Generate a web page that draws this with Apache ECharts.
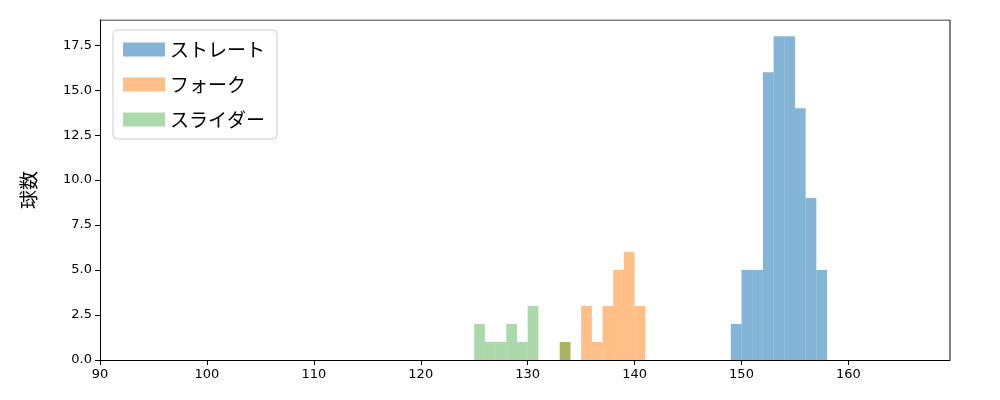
<!DOCTYPE html>
<html>
<head>
<meta charset="utf-8">
<script src="https://cdn.jsdelivr.net/npm/echarts@6/dist/echarts.min.js"></script>
<style>html,body{margin:0;background:#fff}#main{width:1000px;height:400px}</style>
</head>
<body>
<div id="main"></div>
<script>
// 球速ビン（左端, 幅1）と球数
const straightBins = [149, 150, 151, 152, 153, 154, 155, 156, 157]
const straightCounts = [2, 5, 5, 16, 18, 18, 14, 9, 5]
const forkBins = [133, 135, 136, 137, 138, 139, 140]
const forkCounts = [1, 3, 1, 3, 5, 6, 3]
const sliderBins = [125, 126, 127, 128, 129, 130, 133]
const sliderCounts = [2, 1, 1, 2, 1, 3, 1]
const names = ['ストレート', 'フォーク', 'スライダー']
const colors = ['rgba(31,119,180,0.55)', 'rgba(255,127,14,0.5)', 'rgba(44,160,44,0.4)']

const font = 'Noto Sans CJK JP'

function histSeries(name, bins, counts, color) {
  return {
    name: name,
    type: 'custom',
    itemStyle: { color: color },
    data: bins.map((b, i) => [b, b + 1, counts[i]]),
    encode: { x: [0, 1], y: 2 },
    renderItem: function (params, api) {
      const p0 = api.coord([api.value(0), 0])
      const p1 = api.coord([api.value(1), api.value(2)])
      return {
        type: 'rect',
        shape: { x: p0[0], y: p1[1], width: p1[0] - p0[0], height: p0[1] - p1[1] },
        style: { fill: color }
      }
    }
  }
}

const myChart = echarts.init(document.querySelector('#main'))
const option = {
  animation: false,
  grid: { left: 100, right: 50, top: 20, bottom: 40 },
  legend: {
    left: 113, top: 30,
    orient: 'vertical',
    itemWidth: 42, itemHeight: 14, itemGap: 16,
    padding: [10, 12, 10, 10],
    borderColor: '#ccc', borderWidth: 1, borderRadius: 4,
    textStyle: { fontFamily: font, fontSize: 19, color: '#000' },
    data: names.map((n, i) => ({ name: n, icon: 'rect', itemStyle: { color: colors[i] } }))
  },
  xAxis: {
    type: 'value', min: 90, max: 169.5, interval: 10,
    splitLine: { show: false },
    axisLine: { lineStyle: { color: '#000' } },
    axisTick: { lineStyle: { color: '#000' }, length: 5 },
    axisLabel: { color: '#000', fontSize: 13, fontFamily: 'DejaVu Sans', showMaxLabel: false }
  },
  yAxis: {
    type: 'value', min: 0, max: 18.9, interval: 2.5,
    name: '球数', nameLocation: 'middle', nameGap: 62,
    nameTextStyle: { fontFamily: font, fontSize: 19, color: '#000' },
    splitLine: { show: false },
    axisLine: { show: true, lineStyle: { color: '#000' } },
    axisTick: { show: true, lineStyle: { color: '#000' }, length: 5 },
    axisLabel: { color: '#000', fontSize: 13, fontFamily: 'DejaVu Sans', showMaxLabel: false,
      formatter: v => v.toFixed(1) }
  },
  series: [
    histSeries(names[0], straightBins, straightCounts, colors[0]),
    histSeries(names[1], forkBins, forkCounts, colors[1]),
    histSeries(names[2], sliderBins, sliderCounts, colors[2]),
    // 枠線（右・上）
    {
      type: 'line', data: [[169.5, 0], [169.5, 18.9], [90, 18.9]],
      symbol: 'none', silent: true, lineStyle: { color: '#000', width: 1 }
    }
  ]
}
myChart.setOption(option)
</script>
</body>
</html>
